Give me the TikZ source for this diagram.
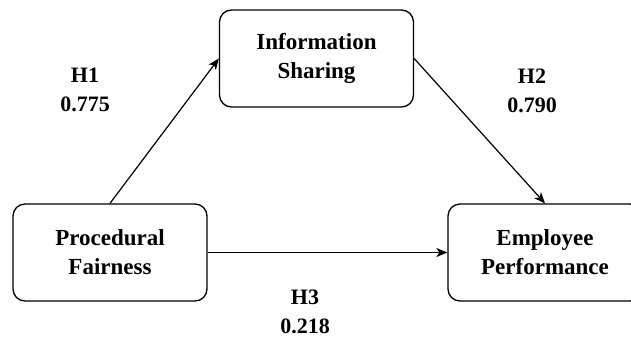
\documentclass[tikz,border=0pt]{standalone}
\usepackage{fontspec}
\setmainfont{Liberation Serif}
\usetikzlibrary{arrows.meta,positioning}

\begin{document}
\begin{tikzpicture}[x=1pt,y=-1pt,
    box/.style={draw,line width=1.3pt,rounded corners=12pt,minimum width=194pt,
      minimum height=97pt,align=center,font=\fontsize{23}{29}\selectfont\bfseries},
    hyp/.style={align=center,font=\fontsize{22}{29}\selectfont\bfseries},
    link/.style={line width=1.2pt,-{Stealth[length=11pt,width=9pt,inset=3pt]}}]
  \useasboundingbox (0,0) rectangle (631,338);
  % the three constructs
  \node[box] (info) at (316.5,58.5) {Information\\Sharing};
  \node[box] (proc) at (110,252.5) {Procedural\\Fairness};
  \node[box] (perf) at (545,252.5) {Employee\\Performance};
  % paths between them
  \draw[link] (proc.north) -- (info.west);
  \draw[link] (info.east) -- (perf.north);
  \draw[link] (proc.east) -- (perf.west);
  % hypotheses and path coefficients
  \node[hyp] (h1) at (85,90) {H1\\0.775};
  \node[hyp] (h2) at (532,91) {H2\\0.790};
  \node[hyp] (h3) at (305,312) {H3\\0.218};
\end{tikzpicture}
\end{document}
